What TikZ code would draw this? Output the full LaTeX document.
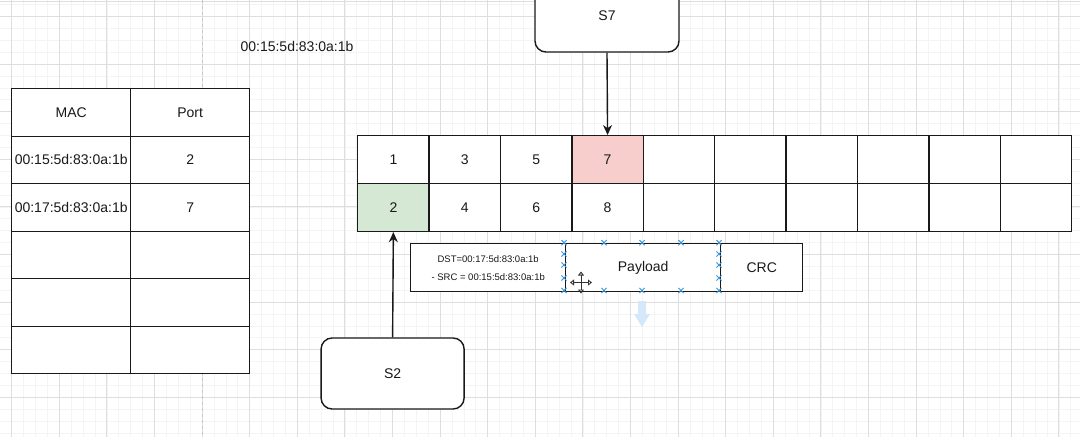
\documentclass[tikz,border=0pt]{standalone}
\usepackage{fontspec}
\setmainfont{Liberation Sans}
\usetikzlibrary{arrows.meta}
\definecolor{gridminor}{RGB}{244,244,244}
\definecolor{gridmajor}{RGB}{222,222,222}
\definecolor{redfill}{RGB}{248,206,204}
\definecolor{greenfill}{RGB}{213,232,212}
\definecolor{handle}{RGB}{60,150,215}
\definecolor{ghost}{RGB}{212,232,250}
\definecolor{ink}{RGB}{25,25,25}
\begin{document}
\begin{tikzpicture}[x=1pt,y=-1pt,
  cell/.style={draw=ink, line width=1.4pt, fill=white, minimum width=71.4pt, minimum height=47.8pt, inner sep=0pt, anchor=north west, text=ink, font=\fontsize{14}{16}\selectfont},
  tcell/.style={draw=ink, line width=1.4pt, fill=white, minimum width=119pt, minimum height=47.5pt, inner sep=0pt, anchor=north west, text=ink, font=\fontsize{14}{16}\selectfont},
  fcell/.style={draw=ink, line width=1.4pt, fill=white, minimum height=48pt, inner sep=0pt, anchor=north west, text=ink, font=\fontsize{14}{16}\selectfont},
  sbox/.style={draw=ink, line width=1.4pt, fill=white, rounded corners=11pt, inner sep=0pt, text=ink, font=\fontsize{14}{16}\selectfont},
  lbl/.style={inner sep=0pt, text=ink, font=\fontsize{14}{16}\selectfont},
  arr/.style={draw=ink, line width=1.4pt, -{Stealth[length=10pt,width=9pt]}},
  minorline/.style={draw=gridminor, line width=0.8pt},
  majorline/.style={draw=gridmajor, line width=0.9pt},
  handlemark/.style={draw=handle, line width=1pt},
  cursorarrow/.style={draw=black!80, line width=0.9pt, {Triangle[open,length=4pt,width=6pt]}-{Triangle[open,length=4pt,width=6pt]}}
]
% background and bounding box
\fill[white] (0,0) rectangle (1080,437);
\useasboundingbox (0,0) rectangle (1080,437);
% grid
\foreach \i in {-1,...,90} {\draw[minorline] ({11.7+11.9*\i},0) -- ({11.7+11.9*\i},437);}
\foreach \j in {-2,...,36} {\draw[minorline] (0,{16.5+11.9*\j}) -- (1080,{16.5+11.9*\j});}
\foreach \i in {0,...,22} {\draw[majorline] ({11.7+47.6*\i},0) -- ({11.7+47.6*\i},437);}
\foreach \j in {0,...,9} {\draw[majorline] (0,{16.5+47.6*\j}) -- (1080,{16.5+47.6*\j});}
\draw[majorline] (0,1.5) -- (1080,1.5);
\draw[gray!45, line width=0.9pt, dash pattern=on 3pt off 3pt] (202,0) -- (202,437);

% top MAC label
\node[lbl] (toplabel) at (297,46) {00:15:5d:83:0a:1b};

% MAC table
\node[tcell] (mh) at (11,88) {MAC};
\node[tcell] (ph) at (130,88) {Port};
\node[tcell] (m1) at (11,135.5) {00:15:5d:83:0a:1b};
\node[tcell] (p1) at (130,135.5) {2};
\node[tcell] (m2) at (11,183) {00:17:5d:83:0a:1b};
\node[tcell] (p2) at (130,183) {7};
\node[tcell] (m3) at (11,230.5) {};
\node[tcell] (p3) at (130,230.5) {};
\node[tcell] (m4) at (11,278) {};
\node[tcell] (p4) at (130,278) {};
\node[tcell] (m5) at (11,325.5) {};
\node[tcell] (p5) at (130,325.5) {};

% switch ports
\node[cell] (t0) at (357,135) {1};
\node[cell] (t1) at ({357+71.4*1},135) {3};
\node[cell] (t2) at ({357+71.4*2},135) {5};
\node[cell, fill=redfill] (t3) at ({357+71.4*3},135) {7};
\foreach \i in {4,...,9} {\node[cell] (t\i) at ({357+71.4*\i},135) {};}
\node[cell, fill=greenfill] (b0) at (357,183) {2};
\node[cell] (b1) at ({357+71.4*1},183) {4};
\node[cell] (b2) at ({357+71.4*2},183) {6};
\node[cell] (b3) at ({357+71.4*3},183) {8};
\foreach \i in {4,...,9} {\node[cell] (b\i) at ({357+71.4*\i},183) {};}

% frame
\node[fcell, minimum width=155pt, align=center, font=\fontsize{9.5}{18}\selectfont] (hdr) at (410,243) {DST=00:17:5d:83:0a:1b\\- SRC = 00:15:5d:83:0a:1b};
\node[fcell, minimum width=155pt] (pay) at (565,243) {Payload};
\node[fcell, minimum width=82pt] (crc) at (720,243) {CRC};

% selection handles around Payload
\foreach \x/\y in {564/242.7,604/242.7,642/242.7,681/242.7,719/242.7,
                   564/290.5,604/290.5,642/290.5,681/290.5,719/290.5,
                   564/254,564/265,564/278,719/254,719/265,719/278} {
  \draw[handlemark] ({\x-2.6},{\y-2.6}) -- ({\x+2.6},{\y+2.6}) ({\x-2.6},{\y+2.6}) -- ({\x+2.6},{\y-2.6});
}
% move cursor
\draw[cursorarrow] (570,282.5) -- (592,282.5);
\draw[cursorarrow] (581,271.5) -- (581,293.5);
% ghost arrow
\fill[ghost] (638,301) -- (646,301) -- (646,314) -- (650,314) -- (642,327) -- (634,314) -- (638,314) -- cycle;

% stations
\node[sbox, minimum width=144pt, minimum height=72pt] (s7) at (607,16) {S7};
\node[sbox, minimum width=143pt, minimum height=71pt] (s2) at (392.6,373.5) {S2};

% connectors
\draw[arr] (s7.south) -- (t3.north);
\draw[arr] (s2.north) -- (b0.south);
\end{tikzpicture}
\end{document}
